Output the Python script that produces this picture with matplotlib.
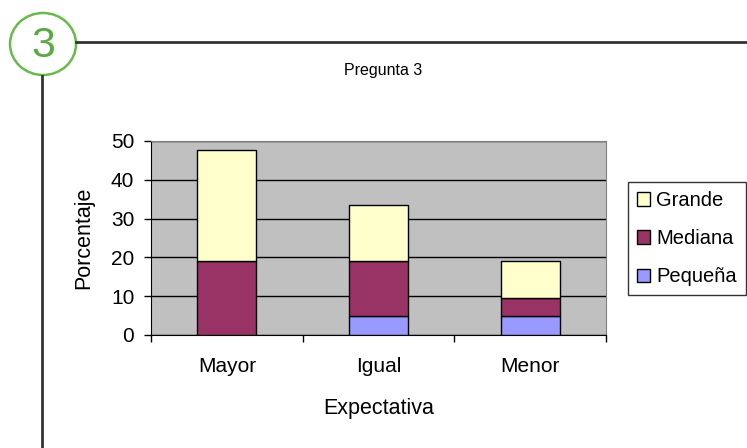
import matplotlib.pyplot as plt
from matplotlib.patches import Ellipse
from matplotlib.lines import Line2D

categories = ['Mayor', 'Igual', 'Menor']
pequena = [0.0, 4.8, 4.8]
mediana = [19.0, 14.3, 4.8]
grande = [28.6, 14.3, 9.5]
series_names = ['Pequeña', 'Mediana', 'Grande']
colors = ['#9999FF', '#993366', '#FFFFCC']

plt.rcParams['font.family'] = ['Liberation Sans', 'DejaVu Sans']

fig = plt.figure(figsize=(7.47, 4.48), dpi=100)
W, H = 747, 448

# frame decoration: numbered circle and lines
deco = fig.add_axes([0, 0, 1, 1])
deco.set_xlim(0, W)
deco.set_ylim(H, 0)
deco.axis('off')
deco.add_patch(Ellipse((43, 44), 66, 62, fill=False, edgecolor='#66BB4C', lw=1.8))
deco.text(43, 46, '3', color='#5AAA44', fontsize=31, ha='center', va='center')
deco.add_line(Line2D([76, W], [42, 42], color='#333333', lw=2))
deco.add_line(Line2D([42, 42], [76, H], color='#333333', lw=2))
deco.text(383, 71, 'Pregunta 3', fontsize=11.5, ha='center', va='center')

ax = fig.add_axes([151 / W, 1 - 335 / H, 455 / W, 194 / H])
ax.set_facecolor('#C0C0C0')
ax.set_zorder(2)

x = range(len(categories))
bottom = [0.0] * len(categories)
handles = []
for vals, name, col in zip([pequena, mediana, grande], series_names, colors):
    b = ax.bar(x, vals, width=0.39, bottom=bottom, color=col, edgecolor='black',
               linewidth=1, label=name, zorder=3)
    handles.append(b)
    bottom = [bo + v for bo, v in zip(bottom, vals)]

ax.set_xlim(-0.5, 2.5)
ax.set_ylim(0, 50)
ax.set_yticks([0, 10, 20, 30, 40, 50])
ax.yaxis.grid(True, color='black', lw=1, zorder=1)
ax.set_axisbelow(True)
ax.set_xticks(list(x))
ax.set_xticklabels(categories, fontsize=15)
ax.set_xticks([-0.5, 0.5, 1.5, 2.5], minor=True)
ax.tick_params(axis='x', which='major', length=0, pad=16)
ax.tick_params(axis='x', which='minor', length=5, width=1, direction='out')
ax.tick_params(axis='y', length=5, width=1, labelsize=15, pad=7)
for side in ['top', 'right']:
    ax.spines[side].set_color('#808080')
for side in ['left', 'bottom']:
    ax.spines[side].set_color('black')
ax.set_xlabel('Expectativa', fontsize=15.5, labelpad=16)
ax.set_ylabel('Porcentaje', fontsize=15.5, labelpad=12)

leg = ax.legend(handles[::-1], series_names[::-1], loc='upper left',
                bbox_to_anchor=(628 / W, 1 - 182 / H), bbox_transform=fig.transFigure,
                fontsize=14.5, frameon=True, fancybox=False, edgecolor='black',
                handlelength=0.65, handleheight=0.65, handletextpad=0.3,
                labelspacing=0.95, borderpad=0.45, borderaxespad=0)
leg.get_frame().set_linewidth(1)

fig.savefig('out.png', dpi=100, facecolor='white')
